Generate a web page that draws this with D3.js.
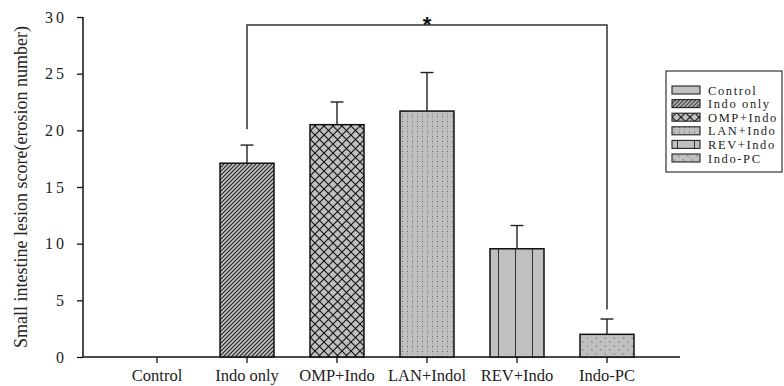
<!DOCTYPE html>
<html>
<head>
<meta charset="utf-8">
<script src="https://cdn.jsdelivr.net/npm/d3@7"></script>
<style>
  html, body { margin: 0; padding: 0; background: #fff; }
  svg { display: block; }
</style>
</head>
<body>
<svg id="chart" width="784" height="386"></svg>
<script>
// Lesion scores by treatment group (mean and SD)
const groups = ["Control", "Indo only", "OMP+Indo", "LAN+Indol", "REV+Indo", "Indo-PC"];
const legendLabels = ["Control", "Indo only", "OMP+Indo", "LAN+Indo", "REV+Indo", "Indo-PC"];
const means = [0, 17.1, 20.5, 21.7, 9.55, 2.0];
const errors = [0, 1.6, 2.0, 3.4, 2.05, 1.35];
const yTicks = [0, 5, 10, 15, 20, 25, 30];
// Significance bracket: from group, to group, top level, left and right leg ends
const bracketGroups = ["Indo only", "Indo-PC"];
const bracketLevels = [29.3, 20.1, 4.2];
const bracketLabel = "*";

const serif = "'Liberation Serif', 'Times New Roman', serif";
const svg = d3.select("#chart");
const x0 = 83, x1 = 680, yTop = 17, yBot = 357;

const x = d3.scaleBand().domain(groups).range([112, 652]).paddingInner(0.4).paddingOuter(0.2);
const y = d3.scaleLinear().domain([0, 30]).range([yBot, yTop]);

// Fill patterns
const defs = svg.append("defs");
const grey = "#c0c0c0";
const ink = "#222";
function pat(id, w, h, draw) {
  const p = defs.append("pattern").attr("id", id).attr("patternUnits", "userSpaceOnUse")
    .attr("width", w).attr("height", h);
  p.append("rect").attr("width", w).attr("height", h).attr("fill", grey);
  draw(p);
}
pat("p0", 8, 8, () => {});
pat("p1", 4, 4, p => {
  p.append("path").attr("d", "M-1,1 L1,-1 M0,4 L4,0 M3,5 L5,3")
    .attr("stroke", ink).attr("stroke-width", 1.1);
});
pat("p2", 9, 9, p => {
  p.append("path").attr("d", "M0,0 L9,9 M9,0 L0,9")
    .attr("stroke", "#111").attr("stroke-width", 1.1);
});
pat("p3", 5, 5, p => {
  p.append("rect").attr("x", 2).attr("y", 1).attr("width", 1).attr("height", 1).attr("fill", "#666");
  p.append("rect").attr("x", 2).attr("y", 3.5).attr("width", 1).attr("height", 0.8).attr("fill", "#888");
});
pat("p4", 17, 10, p => {
  p.append("line").attr("x1", 5.5).attr("x2", 5.5).attr("y1", 0).attr("y2", 10)
    .attr("stroke", "#333").attr("stroke-width", 1);
});
pat("p5", 9, 8, p => {
  p.append("path").attr("d", "M2,1.5 L2.8,2.5 M6.5,5.5 L7.3,6.5")
    .attr("stroke", "#444").attr("stroke-width", 1);
});

// Axes
const yAxis = d3.axisLeft(y).tickValues(yTicks).tickSize(6).tickPadding(10).tickFormat(d3.format("d"));
const gy = svg.append("g").attr("transform", `translate(${x0},0)`).call(yAxis);
gy.select(".domain").remove();
gy.selectAll("line").attr("stroke", "#111").attr("stroke-width", 1.3);
gy.selectAll("text").attr("font-size", 16).attr("letter-spacing", "3px").attr("fill", "#222")
  .attr("font-family", serif);
svg.append("line").attr("x1", x0).attr("x2", x0).attr("y1", y(30)).attr("y2", yBot)
  .attr("stroke", "#111").attr("stroke-width", 1.5);

const xAxis = d3.axisBottom(x).tickSize(6).tickPadding(6);
const gx = svg.append("g").attr("transform", `translate(0,${yBot})`).call(xAxis);
gx.select(".domain").remove();
gx.selectAll("line").attr("stroke", "#111").attr("stroke-width", 1.3);
gx.selectAll("text").attr("font-size", 16.5).attr("fill", "#222").attr("font-family", serif);
svg.append("line").attr("x1", x0).attr("x2", x1).attr("y1", yBot).attr("y2", yBot)
  .attr("stroke", "#111").attr("stroke-width", 1.5);

svg.append("text")
  .attr("transform", `translate(27,${(yTop + yBot) / 2}) rotate(-90)`)
  .attr("text-anchor", "middle").attr("font-size", 18).attr("fill", "#222")
  .attr("font-family", serif)
  .text("Small intestine lesion score(erosion number)");

// Bars
const data = groups.map((g, i) => ({ g, i, m: means[i], e: errors[i] }));
svg.append("g").selectAll("rect").data(data.filter(d => d.m > 0)).join("rect")
  .attr("x", d => x(d.g)).attr("width", x.bandwidth())
  .attr("y", d => y(d.m)).attr("height", d => y(0) - y(d.m))
  .attr("fill", d => `url(#p${d.i})`).attr("stroke", "#111").attr("stroke-width", 1.5);

// Error bars (upper only)
const eb = svg.append("g").attr("stroke", "#222").attr("stroke-width", 1.4);
data.filter(d => d.m > 0).forEach(d => {
  const cx = x(d.g) + x.bandwidth() / 2;
  eb.append("line").attr("x1", cx).attr("x2", cx).attr("y1", y(d.m)).attr("y2", y(d.m + d.e));
  eb.append("line").attr("x1", cx - 6.5).attr("x2", cx + 6.5).attr("y1", y(d.m + d.e)).attr("y2", y(d.m + d.e));
});

// Significance bracket
const bxL = x(bracketGroups[0]) + x.bandwidth() / 2;
const bxR = x(bracketGroups[1]) + x.bandwidth() / 2;
svg.append("path")
  .attr("d", `M${bxL},${y(bracketLevels[1])} V${y(bracketLevels[0])} H${bxR} V${y(bracketLevels[2])}`)
  .attr("fill", "none").attr("stroke", "#333").attr("stroke-width", 1.5);
svg.append("text").attr("x", (bxL + bxR) / 2).attr("y", y(bracketLevels[0]) + 7)
  .attr("text-anchor", "middle").attr("font-size", 22).attr("font-weight", "bold")
  .attr("font-family", "'Liberation Sans', Arial, sans-serif").attr("fill", "#111").text(bracketLabel);

// Legend
const lg = svg.append("g").attr("transform", "translate(666,71)");
lg.append("rect").attr("x", 0).attr("y", 0).attr("width", 116).attr("height", 101)
  .attr("fill", "#fff").attr("stroke", "#333").attr("stroke-width", 1.2);
legendLabels.forEach((t, i) => {
  const row = lg.append("g").attr("transform", `translate(6,${19 + i * 13.6})`);
  row.append("rect").attr("x", 0).attr("y", -4).attr("width", 28).attr("height", 8)
    .attr("fill", `url(#p${i})`).attr("stroke", "#222").attr("stroke-width", 1.1);
  row.append("text").attr("x", 36).attr("y", 4.5).attr("font-size", 12.5)
    .attr("font-family", serif)
    .attr("letter-spacing", "1.6px").attr("fill", "#222").text(t);
});
</script>
</body>
</html>
